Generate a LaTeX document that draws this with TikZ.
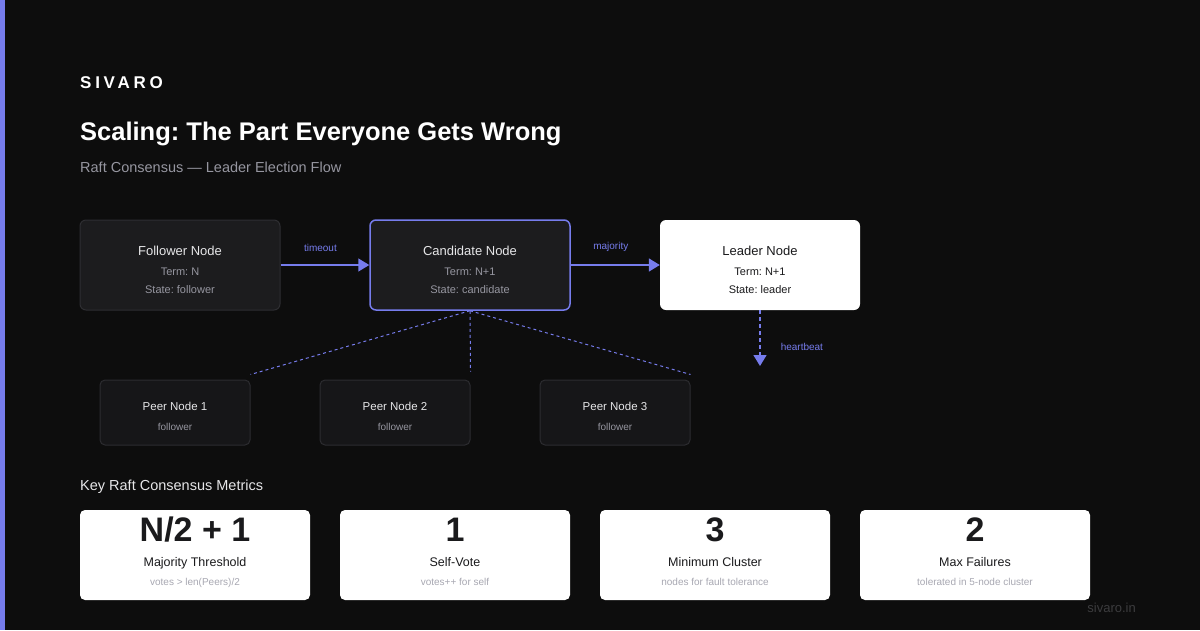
\documentclass[tikz,border=0pt]{standalone}
\usepackage{fontspec}
\setmainfont{Liberation Sans}
\usepackage{tikz}
\usetikzlibrary{calc}
\usetikzlibrary{arrows.meta}
\frenchspacing
\definecolor{bgcol}{RGB}{13,13,13}
\definecolor{accent}{RGB}{118,124,236}
\definecolor{boxfill}{RGB}{28,28,30}
\definecolor{boxline}{RGB}{46,46,50}
\definecolor{peerfill}{RGB}{22,22,24}
\definecolor{peerline}{RGB}{44,44,48}
\definecolor{softtext}{RGB}{230,230,232}
\definecolor{graytext}{RGB}{150,150,160}
\definecolor{inktext}{RGB}{26,26,28}
\definecolor{subgray}{RGB}{168,168,178}
\definecolor{footgray}{RGB}{60,60,62}
\newcommand{\fs}[1]{\fontsize{#1}{#1}\selectfont}
\newcommand{\statebox}[4]{\node[#2] (#1) at ( #3 , #4 ) {};}
\newcommand{\peerbox}[3]{\node[peer] (#1) at ( #2 , 412.5 ) {};
  \node[peertitle] at ($(#1.center)+(0,-2.5)$) {Peer Node #3};
  \node[peersub] at ($(#1.center)+(0,17.5)$) {follower};}
\newcommand{\metric}[5]{\node[card] (#1) at ( #2 , 555 ) {};
  \node[cardvalue] at ($(#1.center)+(0,-14)$) {#3};
  \node[cardlabel] at ($(#1.center)+(0,11)$) {#4};
  \node[cardsub] at ($(#1.center)+(0,30)$) {#5};}
\tikzset{
  state/.style={rectangle, rounded corners=6pt, minimum width=200pt, minimum height=90pt, inner sep=0pt},
  follower/.style={state, fill=boxfill, draw=boxline, line width=1pt},
  candidate/.style={state, fill=boxfill, draw=accent, line width=1.5pt},
  leader/.style={state, fill=white, draw=none},
  peer/.style={rectangle, rounded corners=5pt, minimum width=150pt, minimum height=65pt, fill=peerfill, draw=peerline, line width=1pt},
  card/.style={rectangle, rounded corners=5pt, minimum width=230pt, minimum height=90pt, fill=white, draw=none},
  boxtitle/.style={anchor=base, inner sep=0pt, font=\fs{13}},
  boxline/.style={anchor=base, inner sep=0pt, font=\fs{11}},
  peertitle/.style={anchor=base, inner sep=0pt, text=softtext, font=\fs{11.5}},
  peersub/.style={anchor=base, inner sep=0pt, text=graytext, font=\fs{10}},
  cardvalue/.style={anchor=base, inner sep=0pt, text=inktext, font=\fs{34}\bfseries},
  cardlabel/.style={anchor=base, inner sep=0pt, text=inktext, font=\fs{12.5}},
  cardsub/.style={anchor=base, inner sep=0pt, text=subgray, font=\fs{10}},
  flow/.style={draw=accent, line width=1.5pt, -{Triangle[length=11pt,width=13pt]}},
  flowlabel/.style={text=accent, font=\fs{10}, inner sep=0pt},
  peerlink/.style={draw=accent, line width=1pt, dash pattern=on 3pt off 3pt}
}
\begin{document}
\begin{tikzpicture}[x=1pt,y=-1pt]
% background and accent stripe
\fill[bgcol] (0,0) rectangle (1200,630);
\fill[accent] (0,0) rectangle (5,630);
% header
\node[anchor=base west, inner sep=0pt, text=white, font=\fs{17}\bfseries\addfontfeatures{LetterSpace=22}] (brand) at (80,88) {SIVARO};
\node[anchor=base west, inner sep=0pt, text=white, font=\fs{25.5}\bfseries] (title) at (80,140) {Scaling: The Part Everyone Gets Wrong};
\node[anchor=base west, inner sep=0pt, text=graytext, font=\fs{14.5}] (subtitle) at (80,172) {Raft Consensus — Leader Election Flow};
% state boxes
\statebox{follower}{follower}{180}{265}
\statebox{candidate}{candidate}{470}{265}
\statebox{leader}{leader}{760}{265}
% state box texts
\node[boxtitle, text=softtext] at ($(follower.center)+(0,-10)$) {Follower Node};
\node[boxline, text=graytext] at ($(follower.center)+(0,10)$) {Term: N};
\node[boxline, text=graytext] at ($(follower.center)+(0,28)$) {State: follower};
\node[boxtitle, text=softtext] at ($(candidate.center)+(0,-10)$) {Candidate Node};
\node[boxline, text=graytext] at ($(candidate.center)+(0,10)$) {Term: N+1};
\node[boxline, text=graytext] at ($(candidate.center)+(0,28)$) {State: candidate};
\node[boxtitle, text=inktext] at ($(leader.center)+(0,-10)$) {Leader Node};
\node[boxline, text=inktext] at ($(leader.center)+(0,10)$) {Term: N+1};
\node[boxline, text=inktext] at ($(leader.center)+(0,28)$) {State: leader};
% transitions
\draw[flow] (follower.east) -- (candidate.west) node[flowlabel, pos=0.45, above=13pt] {timeout};
\draw[flow] (candidate.east) -- (leader.west) node[flowlabel, pos=0.45, above=13pt] {majority};
\coordinate (beat) at (760,366);
\draw[flow, dash pattern=on 4pt off 3pt] (leader.south) -- (beat) node[flowlabel, pos=0.66, right=20pt] {heartbeat};
% peers
\peerbox{peer1}{175}{1}
\peerbox{peer2}{395}{2}
\peerbox{peer3}{615}{3}
\draw[peerlink] (candidate.south) -- ($(peer1.north east)+(0,-5)$);
\draw[peerlink] (candidate.south) -- ($(peer2.north east)+(0,-8)$);
\draw[peerlink] (candidate.south) -- ($(peer3.north east)+(0,-5)$);
% metrics
\node[anchor=base west, inner sep=0pt, text=softtext, font=\fs{14.5}] (metrics) at (80,490) {Key Raft Consensus Metrics};
\metric{majority}{195}{N/2 + 1}{Majority Threshold}{votes > len(Peers)/2}
\metric{selfvote}{455}{1}{Self-Vote}{votes++ for self}
\metric{mincluster}{715}{3}{Minimum Cluster}{nodes for fault tolerance}
\metric{maxfail}{975}{2}{Max Failures}{tolerated in 5-node cluster}
% footer
\node[anchor=base east, inner sep=0pt, text=footgray, font=\fs{13}] (site) at (1136,612) {sivaro.in};
\end{tikzpicture}
\end{document}
